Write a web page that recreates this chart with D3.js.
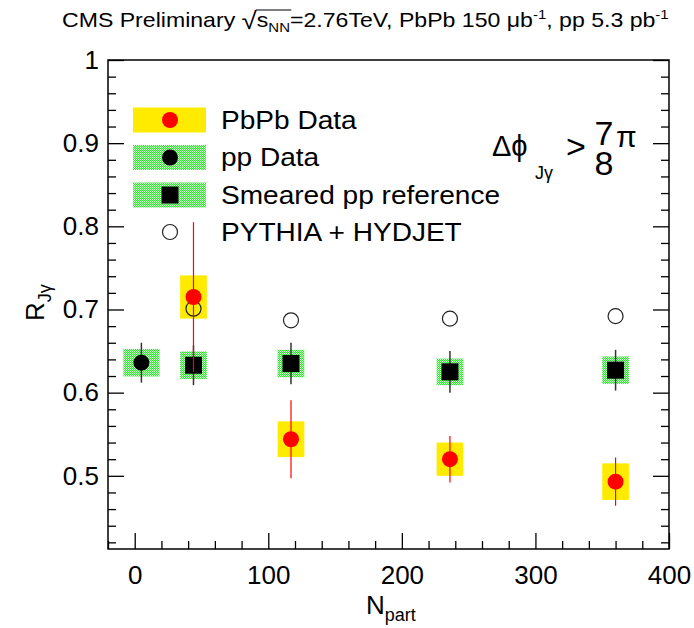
<!DOCTYPE html>
<html>
<head>
<meta charset="utf-8">
<script src="https://cdn.jsdelivr.net/npm/d3@7"></script>
<style>
  body { margin: 0; background: #fff; }
  svg { display: block; }
  text { font-family: "Liberation Sans", Arial, sans-serif; }
</style>
</head>
<body>
<script>
// ---- data ----
var npart = [44, 117, 236, 360];
var pbpbVal = [0.715, 0.544, 0.520, 0.493];
var pbpbStat = [0.090, 0.047, 0.028, 0.029];
var pbpbSys = [0.026, 0.0215, 0.020, 0.022];

var smearVal = [0.633, 0.635, 0.625, 0.627];
var smearStat = [0.024, 0.025, 0.025, 0.0245];
var smearSys = [0.0165, 0.0165, 0.016, 0.0165];

var ppNpart = [5];
var ppVal = [0.636];
var ppStat = [0.024];
var ppSys = [0.0165];

var pythiaVal = [0.701, 0.687, 0.689, 0.692];

var legendLabels = ["PbPb Data", "pp Data", "Smeared pp reference", "PYTHIA + HYDJET"];
var xTicks = [0, 100, 200, 300, 400];
var yTicks = [0.5, 0.6, 0.7, 0.8, 0.9, 1.0];

function drawChart() {
    var width = 694, height = 628;
    var padL = 108, padR = 669, padT = 60, padB = 549;

    var svg = d3.select("body").append("svg")
        .attr("width", width)
        .attr("height", height);

    var defs = svg.append("defs");
    var pat = defs.append("pattern")
        .attr("id", "hatch")
        .attr("patternUnits", "userSpaceOnUse")
        .attr("width", 2).attr("height", 2);
    pat.append("rect").attr("width", 2).attr("height", 2).attr("fill", "#c8fcc8");
    pat.append("rect").attr("x", 0).attr("y", 0).attr("width", 1).attr("height", 1).attr("fill", "#2ee62e");
    pat.append("rect").attr("x", 1).attr("y", 1).attr("width", 1).attr("height", 1).attr("fill", "#2ee62e");

    var x = d3.scaleLinear().domain([-20, 400]).range([padL, padR]);
    var y = d3.scaleLinear().domain([0.412, 1]).range([padB, padT]);

    var yellow = "#ffeb00";

    // minor tick positions
    var xMinor = d3.range(-20, 401, 20).filter(function(d) { return d % 100 !== 0; });
    var yMinor = d3.range(42, 101, 2).map(function(d) { return d / 100; })
        .filter(function(d) { return Math.round(d * 100) % 10 !== 0; });

    // axes, ticks pointing inward like ROOT
    svg.append("g").attr("transform", "translate(0," + padB + ")")
        .call(d3.axisBottom(x).tickValues(xTicks).tickSizeInner(-16).tickSizeOuter(0).tickPadding(17));
    svg.append("g").attr("transform", "translate(0," + padB + ")")
        .call(d3.axisBottom(x).tickValues(xMinor).tickSizeInner(-8).tickSizeOuter(0).tickFormat(""));

    svg.append("g").attr("transform", "translate(" + padL + ",0)")
        .call(d3.axisLeft(y).tickValues(yTicks).tickSizeInner(-16).tickSizeOuter(0).tickPadding(9)
            .tickFormat(function(d) { return d === 1 ? "1" : d3.format(".1f")(d); }));
    svg.append("g").attr("transform", "translate(" + padL + ",0)")
        .call(d3.axisLeft(y).tickValues(yMinor).tickSizeInner(-8).tickSizeOuter(0).tickFormat(""));

    svg.append("g").attr("transform", "translate(" + padR + ",0)")
        .call(d3.axisRight(y).tickValues(yTicks).tickSizeInner(-16).tickSizeOuter(0).tickFormat(""));
    svg.append("g").attr("transform", "translate(" + padR + ",0)")
        .call(d3.axisRight(y).tickValues(yMinor).tickSizeInner(-8).tickSizeOuter(0).tickFormat(""));

    svg.selectAll(".domain").remove();
    svg.selectAll(".tick line").attr("stroke", "#000").attr("stroke-width", 1.3);
    svg.selectAll(".tick text").attr("font-size", 26).attr("fill", "#000")
        .attr("font-family", "Liberation Sans, Arial, sans-serif");

    svg.append("rect")
        .attr("x", padL).attr("y", padT)
        .attr("width", padR - padL).attr("height", padB - padT)
        .attr("fill", "none").attr("stroke", "#000").attr("stroke-width", 1.5);

    // ---- systematic boxes ----
    var boxHalf = 10, ppBoxHalf = 13.5;
    var plot = svg.append("g");

    plot.selectAll(".ppsys").data(ppVal).enter().append("rect")
        .attr("x", function(d, i) { return x(ppNpart[i] - ppBoxHalf); })
        .attr("width", function(d, i) { return x(ppNpart[i] + ppBoxHalf) - x(ppNpart[i] - ppBoxHalf); })
        .attr("y", function(d, i) { return y(d + ppSys[i]); })
        .attr("height", function(d, i) { return y(d - ppSys[i]) - y(d + ppSys[i]); })
        .attr("fill", "url(#hatch)");

    plot.selectAll(".smsys").data(smearVal).enter().append("rect")
        .attr("x", function(d, i) { return x(npart[i] - boxHalf); })
        .attr("width", function(d, i) { return x(npart[i] + boxHalf) - x(npart[i] - boxHalf); })
        .attr("y", function(d, i) { return y(d + smearSys[i]); })
        .attr("height", function(d, i) { return y(d - smearSys[i]) - y(d + smearSys[i]); })
        .attr("fill", "url(#hatch)");

    plot.selectAll(".pbsys").data(pbpbVal).enter().append("rect")
        .attr("x", function(d, i) { return x(npart[i] - boxHalf); })
        .attr("width", function(d, i) { return x(npart[i] + boxHalf) - x(npart[i] - boxHalf); })
        .attr("y", function(d, i) { return y(d + pbpbSys[i]); })
        .attr("height", function(d, i) { return y(d - pbpbSys[i]) - y(d + pbpbSys[i]); })
        .attr("fill", yellow);

    // PYTHIA + HYDJET open circles
    plot.selectAll(".py").data(pythiaVal).enter().append("circle")
        .attr("cx", function(d, i) { return x(npart[i]); })
        .attr("cy", function(d) { return y(d); })
        .attr("r", 7.5)
        .attr("fill", "none").attr("stroke", "#222").attr("stroke-width", 1.2);

    // smeared pp reference
    plot.selectAll(".smerr").data(smearVal).enter().append("line")
        .attr("x1", function(d, i) { return x(npart[i]); })
        .attr("x2", function(d, i) { return x(npart[i]); })
        .attr("y1", function(d, i) { return y(d + smearStat[i]); })
        .attr("y2", function(d, i) { return y(d - smearStat[i]); })
        .attr("stroke", "#333").attr("stroke-width", 1.5);
    plot.selectAll(".sm").data(smearVal).enter().append("rect")
        .attr("x", function(d, i) { return x(npart[i]) - 8.5; })
        .attr("y", function(d) { return y(d) - 8.5; })
        .attr("width", 17).attr("height", 17)
        .attr("fill", "#000");

    // pp data
    plot.selectAll(".pperr").data(ppVal).enter().append("line")
        .attr("x1", function(d, i) { return x(ppNpart[i]); })
        .attr("x2", function(d, i) { return x(ppNpart[i]); })
        .attr("y1", function(d, i) { return y(d + ppStat[i]); })
        .attr("y2", function(d, i) { return y(d - ppStat[i]); })
        .attr("stroke", "#333").attr("stroke-width", 1.5);
    plot.selectAll(".pp").data(ppVal).enter().append("circle")
        .attr("cx", function(d, i) { return x(ppNpart[i]); })
        .attr("cy", function(d) { return y(d); })
        .attr("r", 8).attr("fill", "#000");

    // PbPb data
    plot.selectAll(".pberr").data(pbpbVal).enter().append("line")
        .attr("x1", function(d, i) { return x(npart[i]); })
        .attr("x2", function(d, i) { return x(npart[i]); })
        .attr("y1", function(d, i) { return y(d + pbpbStat[i]); })
        .attr("y2", function(d, i) { return y(d - pbpbStat[i]); })
        .attr("stroke", "#ff0000").attr("stroke-width", 1.2);
    plot.selectAll(".pb").data(pbpbVal).enter().append("circle")
        .attr("cx", function(d, i) { return x(npart[i]); })
        .attr("cy", function(d) { return y(d); })
        .attr("r", 8).attr("fill", "#ff0000");

    // ---- legend ----
    var rowY = [120, 157.5, 195, 232];
    var leg = svg.append("g");
    leg.append("rect").attr("x", 133).attr("y", rowY[0] - 12.5).attr("width", 73).attr("height", 25).attr("fill", yellow);
    leg.append("circle").attr("cx", 170).attr("cy", rowY[0]).attr("r", 8).attr("fill", "#ff0000");
    leg.append("rect").attr("x", 133).attr("y", rowY[1] - 12.5).attr("width", 73).attr("height", 25).attr("fill", "url(#hatch)");
    leg.append("circle").attr("cx", 170).attr("cy", rowY[1]).attr("r", 8).attr("fill", "#000");
    leg.append("rect").attr("x", 133).attr("y", rowY[2] - 12.5).attr("width", 73).attr("height", 25).attr("fill", "url(#hatch)");
    leg.append("rect").attr("x", 170 - 8.5).attr("y", rowY[2] - 8.5).attr("width", 17).attr("height", 17).attr("fill", "#000");
    leg.append("circle").attr("cx", 170).attr("cy", rowY[3]).attr("r", 7.5)
        .attr("fill", "none").attr("stroke", "#222").attr("stroke-width", 1.2);

    // ROOT's Helvetica runs a bit wider than Liberation Sans, so stretch the text slightly
    leg.selectAll(".lt").data(legendLabels).enter().append("text")
        .attr("transform", function(d, i) { return "translate(221," + (rowY[i] + 8.5) + ") scale(1.1,1)"; })
        .attr("font-size", 25.5)
        .text(function(d) { return d; });

    // ---- delta phi cut label ----
    var cut = svg.append("g").attr("fill", "#000");
    cut.append("text").attr("x", 492).attr("y", 156).attr("font-size", 29).text("Δϕ");
    cut.append("text").attr("x", 535).attr("y", 179).attr("font-size", 18).text("Jγ");
    cut.append("text").attr("x", 566).attr("y", 158).attr("font-size", 34).text(">");
    cut.append("text").attr("x", 604).attr("y", 145).attr("font-size", 34).attr("text-anchor", "middle").text("7");
    cut.append("text").attr("x", 604).attr("y", 175).attr("font-size", 34).attr("text-anchor", "middle").text("8");
    cut.append("text").attr("x", 616).attr("y", 147).attr("font-size", 30).text("π");

    // ---- axis titles ----
    var xt = svg.append("text").attr("x", 366).attr("y", 614).attr("font-size", 26);
    xt.append("tspan").text("N");
    xt.append("tspan").attr("font-size", 18).attr("dy", 7).text("part");

    var yt = svg.append("text").attr("transform", "translate(44,321) rotate(-90)").attr("font-size", 26);
    yt.append("tspan").text("R");
    yt.append("tspan").attr("font-size", 18).attr("dy", 7).text("Jγ");

    // ---- title ----
    var tg = svg.append("g");
    var tt = tg.append("text").attr("x", 0).attr("y", 0)
        .attr("font-size", 20)
        .attr("font-family", "Liberation Sans Narrow, Arial Narrow, Liberation Sans, sans-serif");
    tt.append("tspan").text("CMS Preliminary ");
    tt.append("tspan").attr("font-size", 24).attr("dy", 2).text("√");
    tt.append("tspan").attr("dy", -2).text("s");
    tt.append("tspan").attr("font-size", 13).attr("dy", 5).text("NN");
    tt.append("tspan").attr("dy", -5).text("=2.76TeV, PbPb 150 μb");
    tt.append("tspan").attr("font-size", 13).attr("dy", -8).text("-1");
    tt.append("tspan").attr("dy", 8).text(", pp 5.3 pb");
    tt.append("tspan").attr("font-size", 13).attr("dy", -8).text("-1");

    // overbar of the square root
    var node = tt.node();
    var rootBox = node.getExtentOfChar(16);
    var nnEnd = node.getExtentOfChar(19);
    tg.append("line")
        .attr("x1", rootBox.x + rootBox.width - 1)
        .attr("x2", nnEnd.x + nnEnd.width + 1)
        .attr("y1", rootBox.y + 3).attr("y2", rootBox.y + 3)
        .attr("stroke", "#000").attr("stroke-width", 1);

    var bb = tg.node().getBBox();
    var sx = (669 - 62) / bb.width;
    tg.attr("transform", "translate(" + (62 - bb.x * sx) + ",27) scale(" + sx + ",1)");
}

drawChart();
</script>
</body>
</html>
